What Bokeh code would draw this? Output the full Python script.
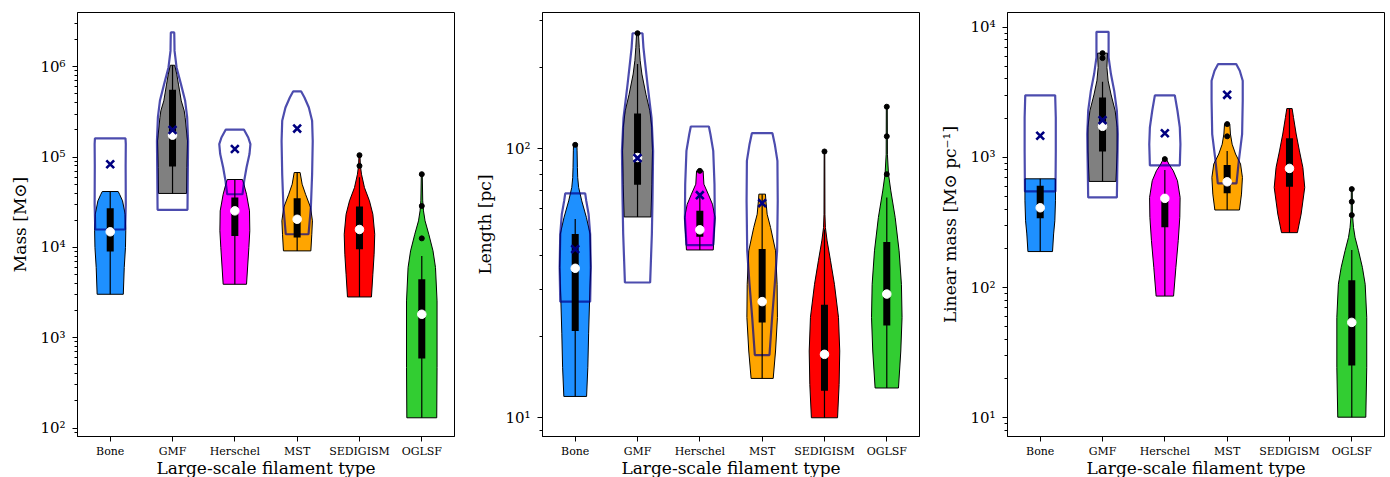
from bokeh.plotting import figure
from bokeh.layouts import row
from bokeh.models import FixedTicker, Range1d, CustomJSTickFormatter
from bokeh.embed import file_html
from bokeh.resources import INLINE

# ---------------- data ----------------
categories = ["Bone", "GMF", "Herschel", "MST", "SEDIGISM", "OGLSF"]
positions = [1, 2, 3, 4, 5, 6]
fill_colors = ["dodgerblue", "grey", "magenta", "orange", "red", "limegreen"]

# Panel 1: Mass [Msun]
mass_fill_vals = [
    [3030, 6000, 10000, 15300, 23300, 32800, 38800, 41600],
    [39600, 76700, 151000, 275000, 326000, 420000, 643000, 830000, 1040000],
    [3910, 9970, 15300, 25400, 38800, 50100, 56500],
    [9160, 14000, 19700, 27700, 38800, 50100, 67500],
    [2830, 5050, 8410, 14000, 23300, 32800, 46000, 64700, 80000, 105000],
    [130, 467, 2560, 5990, 9160, 14000, 19700, 25400, 32800, 64700],
]
mass_fill_dens = [
    [0.84, 0.90, 0.98, 1.0, 0.96, 0.79, 0.60, 0.51],
    [0.90, 0.92, 0.96, 0.81, 0.75, 0.56, 0.38, 0.27, 0.14],
    [0.75, 0.90, 0.96, 0.94, 0.75, 0.58, 0.49],
    [0.88, 0.94, 0.98, 0.86, 0.54, 0.32, 0.19],
    [0.77, 0.86, 0.94, 0.98, 0.86, 0.64, 0.32, 0.13, 0.06, 0.03],
    [0.96, 0.98, 0.98, 0.88, 0.72, 0.45, 0.21, 0.11, 0.06, 0.03],
]
mass_out_vals = [
    [15800, 30000, 80000, 140000, 161000],
    [26100, 64700, 151000, 275000, 420000, 643000, 984000, 1500000, 1940000, 2400000],
    [38800, 54600, 76700, 108000, 139000, 165000, 202000],
    [14000, 27700, 64700, 151000, 252000, 354000, 457000, 533000],
]
mass_out_dens = [
    [0.96, 1.0, 0.99, 1.0, 0.98],
    [0.96, 0.98, 1.0, 0.94, 0.81, 0.54, 0.26, 0.13, 0.12, 0.11],
    [0.49, 0.60, 0.75, 0.94, 1.0, 0.86, 0.58],
    [0.73, 0.88, 0.96, 1.0, 0.96, 0.75, 0.47, 0.26],
]
mass_q1 = [9000, 78700, 13400, 12900, 9550, 588]
mass_q3 = [27200, 556000, 35700, 35100, 28400, 4440]
mass_med = [14900, 175000, 25400, 20500, 15800, 1820]
mass_wlo = [3030, 39600, 3910, 9160, 2830, 130]
mass_whi = [41600, 1040000, 56500, 67500, 60000, 8050]
mass_outliers = [[], [], [], [], [80000, 105000], [12600, 28800, 64700]]
mass_mean = [83500, 200000, 123000, 207000]

# Panel 2: Length [pc]
length_fill_vals = [
    [12.0, 15.4, 20.5, 27.2, 36.2, 48.1, 55.4, 63.9, 71.7, 78.0, 85.0, 98.0, 103.2],
    [55.7, 73.7, 98.0, 119.7, 138, 159, 189, 212, 237, 268],
    [42.0, 48.1, 55.4, 62.1, 67.7, 73.7, 82.6],
    [14.0, 17.7, 23.6, 31.3, 41.7, 50.9, 57.0, 63.9, 67.7],
    [10.0, 13.3, 17.7, 23.6, 31.3, 38.3, 45.4, 50.9, 57.0, 97.5],
    [12.9, 17.7, 23.6, 31.3, 41.7, 55.4, 69.6, 80.3, 95.2, 143],
]
length_fill_dens = [
    [0.73, 0.81, 0.86, 0.92, 1.0, 0.96, 0.72, 0.42, 0.22, 0.16, 0.14, 0.12, 0.11],
    [0.86, 0.92, 0.96, 0.92, 0.79, 0.54, 0.28, 0.17, 0.11, 0.06],
    [0.86, 0.92, 0.98, 0.81, 0.54, 0.26, 0.21],
    [0.71, 0.86, 0.98, 0.96, 0.86, 0.54, 0.32, 0.24, 0.21],
    [0.84, 0.94, 0.98, 0.90, 0.64, 0.39, 0.17, 0.06, 0.03, 0.02],
    [0.75, 0.90, 0.98, 0.94, 0.79, 0.54, 0.26, 0.11, 0.04, 0.03],
]
length_out_vals = [
    [27.0, 36.2, 48.1, 57.0, 63.9, 68.1],
    [31.8, 48.1, 63.9, 98.0, 130, 173, 212, 237, 268],
    [43.8, 55.4, 73.7, 98.0, 113, 120.7],
    [17.1, 23.6, 31.3, 41.7, 63.9, 90.0, 103.8, 114],
]
length_out_dens = [
    [0.96, 1.0, 0.96, 0.86, 0.71, 0.64],
    [0.81, 0.92, 0.96, 1.0, 0.90, 0.64, 0.47, 0.38, 0.32],
    [0.86, 0.96, 0.94, 0.86, 0.68, 0.58],
    [0.47, 0.64, 0.81, 0.96, 1.0, 0.98, 0.81, 0.66],
]
length_q1 = [21.0, 73.3, 47.0, 22.6, 12.6, 22.0]
length_q3 = [48.1, 135, 58.7, 42.3, 26.3, 45.0]
length_med = [35.9, 92.6, 49.9, 27.0, 17.2, 28.8]
length_wlo = [12.0, 55.7, 42.0, 14.0, 10.0, 12.9]
length_whi = [54.7, 206, 68.0, 67.7, 50.0, 65.8]
length_outliers = [[103.2], [268], [82.6], [], [97.5], [80.3, 111, 143]]
length_mean = [42.3, 92.1, 67.1, 62.7]

# Panel 3: Linear mass [Msun pc^-1]
lin_fill_vals = [
    [189, 258, 326, 464, 684],
    [653, 1120, 1700, 2280, 3060, 3870, 4900, 6310],
    [86, 143, 229, 346, 492, 661, 789, 888, 953],
    [394, 522, 701, 888, 1060, 1260, 1510, 1800],
    [264, 367, 587, 836, 1120, 1510, 2020, 2370],
    [10.1, 24.4, 59, 106, 143, 192, 243, 290, 367, 570],
]
lin_fill_dens = [
    [0.79, 0.86, 0.94, 0.98, 0.98],
    [0.86, 0.94, 0.94, 0.81, 0.54, 0.36, 0.28, 0.32],
    [0.56, 0.71, 0.86, 0.96, 0.98, 0.81, 0.54, 0.26, 0.13],
    [0.79, 0.92, 0.98, 0.86, 0.54, 0.32, 0.21, 0.17],
    [0.51, 0.75, 0.98, 0.86, 0.64, 0.43, 0.26, 0.17],
    [0.90, 0.96, 0.96, 0.86, 0.68, 0.43, 0.21, 0.11, 0.04, 0.03],
]
lin_out_vals = [
    [547, 1120, 2020, 2990],
    [492, 1000, 1510, 2280, 3240, 4360, 5850, 7400, 9200],
    [866, 1260, 1700, 2280, 2990],
    [631, 942, 1510, 2720, 3870, 4620, 5200],
]
lin_out_dens = [
    [0.98, 1.0, 1.0, 0.96],
    [0.92, 0.96, 0.98, 0.92, 0.75, 0.54, 0.39, 0.39, 0.39],
    [0.96, 1.0, 0.96, 0.81, 0.64],
    [0.60, 0.75, 0.96, 1.0, 1.0, 0.81, 0.58],
]
lin_q1 = [340, 1110, 290, 531, 594, 25.2]
lin_q3 = [605, 2880, 490, 872, 1400, 114]
lin_med = [410, 1730, 484, 649, 822, 54]
lin_wlo = [189, 653, 86, 394, 264, 10.1]
lin_whi = [684, 3800, 800, 1120, 2370, 194]
lin_outliers = [[], [5780, 6310], [969], [1450, 1800], [], [360, 456, 570]]
lin_mean = [1465, 1930, 1530, 3020]

# ---------------- drawing ----------------
SERIF = "DejaVu Serif"
HALF = 0.25  # half of the violin width (matplotlib widths=0.5)

sup_code = """
const sup = {"0":"\u2070","1":"\u00b9","2":"\u00b2","3":"\u00b3","4":"\u2074",
             "5":"\u2075","6":"\u2076","7":"\u2077","8":"\u2078","9":"\u2079","-":"\u207b"};
const e = Math.round(Math.log10(tick));
return "10" + String(e).split("").map(c => sup[c]).join("");
"""


def violin_shapes(vals_list, dens_list):
    xs, ys = [], []
    for i, (vals, dens) in enumerate(zip(vals_list, dens_list)):
        c = positions[i]
        xs.append([c + HALF * d for d in dens] + [c - HALF * d for d in reversed(dens)])
        ys.append(list(vals) + list(reversed(vals)))
    return xs, ys


def make_panel(ylabel, yr, dec_lo, dec_hi, fill_vals, fill_dens, out_vals, out_dens,
               q1, q3, med, wlo, whi, outliers, means, left, right):
    p = figure(frame_width=377, frame_height=424, y_axis_type="log",
               x_range=Range1d(0.475, 6.525), y_range=Range1d(*yr),
               output_backend="svg", toolbar_location=None,
               min_border_left=left, min_border_right=right,
               min_border_top=12, min_border_bottom=30,
               background_fill_color="white", border_fill_color="white")

    fx, fy = violin_shapes(fill_vals, fill_dens)
    p.patches(xs=fx, ys=fy, fill_color=fill_colors, line_color="black", line_width=1)

    ox, oy = violin_shapes(out_vals, out_dens)
    p.patches(xs=ox, ys=oy, fill_alpha=0, line_color="darkblue", line_alpha=0.7,
              line_width=2.2)

    p.segment(x0=positions, y0=wlo, x1=positions, y1=whi, line_color="black",
              line_width=1.2)
    p.segment(x0=positions, y0=q1, x1=positions, y1=q3, line_color="black",
              line_width=7, line_cap="butt")

    ox_pts, oy_pts = [], []
    for i, lst in enumerate(outliers):
        for v in lst:
            ox_pts.append(positions[i])
            oy_pts.append(v)
    p.scatter(ox_pts, oy_pts, size=5, fill_color="black", line_color="black")

    p.scatter(positions, med, size=8.5, fill_color="white", line_color="white")
    p.scatter(positions[:len(means)], means, marker="x", size=11, line_color="navy",
              line_width=2.6)

    # axes
    majors = [10 ** k for k in range(dec_lo, dec_hi + 1)]
    minors = [m * 10 ** k for k in range(dec_lo - 1, dec_hi + 1) for m in range(2, 10)]
    p.yaxis.ticker = FixedTicker(ticks=majors, minor_ticks=minors)
    p.yaxis.formatter = CustomJSTickFormatter(code=sup_code)
    p.xaxis.ticker = FixedTicker(ticks=positions)
    p.xaxis.formatter = CustomJSTickFormatter(args=dict(names=categories),
                                              code="return names[Math.round(tick) - 1] || '';")

    p.xaxis.axis_label = "Large-scale filament type"
    p.yaxis.axis_label = ylabel
    for ax in p.axis:
        ax.axis_line_color = "black"
        ax.major_tick_line_color = "black"
        ax.major_tick_in = 0
        ax.major_tick_out = 5
        ax.minor_tick_in = 0
        ax.minor_tick_out = 3
        ax.major_label_text_font = SERIF
        ax.major_label_text_color = "black"
        ax.axis_label_text_font = SERIF
        ax.axis_label_text_font_style = "normal"
        ax.axis_label_text_font_size = "17px"
        ax.axis_label_text_color = "black"
    p.yaxis.minor_tick_line_color = "black"
    p.xaxis.minor_tick_line_color = None
    p.yaxis.major_label_text_font_size = "15px"
    p.yaxis.major_label_standoff = 7
    p.yaxis.axis_label_standoff = 7
    p.xaxis.major_label_text_font_size = "11px"
    p.xaxis.major_label_standoff = 3
    p.xaxis.axis_label_standoff = -3

    p.xgrid.visible = False
    p.ygrid.visible = False
    p.outline_line_color = "black"
    p.outline_line_width = 1
    p.outline_line_alpha = 1
    return p


p1 = make_panel("Mass [M\u2299]", (80.7, 3.99e6), 2, 6,
                mass_fill_vals, mass_fill_dens, mass_out_vals, mass_out_dens,
                mass_q1, mass_q3, mass_med, mass_wlo, mass_whi, mass_outliers, mass_mean,
                77, 10)
p2 = make_panel("Length [pc]", (8.52, 320), 1, 2,
                length_fill_vals, length_fill_dens, length_out_vals, length_out_dens,
                length_q1, length_q3, length_med, length_wlo, length_whi, length_outliers,
                length_mean, 78, 10)
p3 = make_panel("Linear mass [M\u2299 pc\u207b\u00b9]", (7.18, 1.295e4), 1, 4,
                lin_fill_vals, lin_fill_dens, lin_out_vals, lin_out_dens,
                lin_q1, lin_q3, lin_med, lin_wlo, lin_whi, lin_outliers, lin_mean,
                78, 6)

layout = row(p1, p2, p3)
open("out.html", "w").write(file_html(layout, INLINE))
